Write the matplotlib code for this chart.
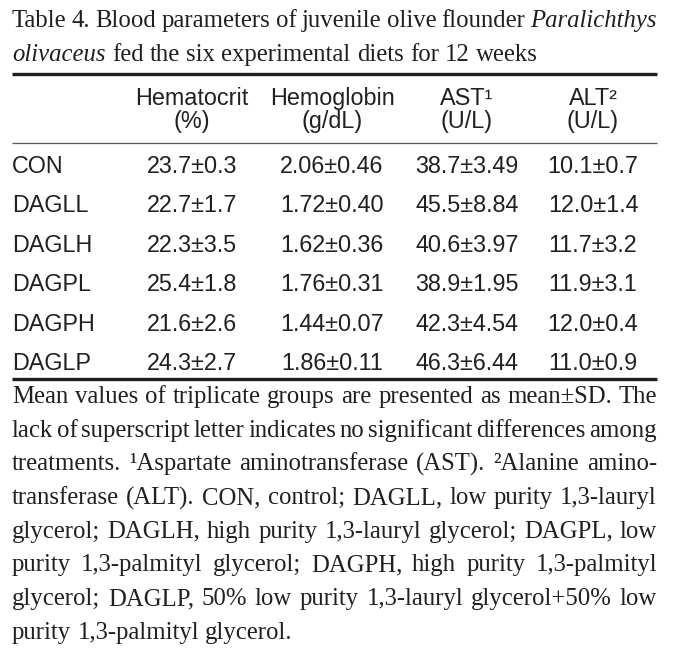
import numpy as np
from matplotlib import pyplot as plt

# table 4 values
treatments = ['CON', 'DAGLL', 'DAGLH', 'DAGPL', 'DAGPH', 'DAGLP']
col_names = ['Hematocrit', 'Hemoglobin', 'AST\u00b9', 'ALT\u00b2']
col_units = ['(%)', '(g/dL)', '(U/L)', '(U/L)']
hct_mean = [23.7, 22.7, 22.3, 25.4, 21.6, 24.3]
hct_sd = [0.3, 1.7, 3.5, 1.8, 2.6, 2.7]
hb_mean = [2.06, 1.72, 1.62, 1.76, 1.44, 1.86]
hb_sd = [0.46, 0.40, 0.36, 0.31, 0.07, 0.11]
ast_mean = [38.7, 45.5, 40.6, 38.9, 42.3, 46.3]
ast_sd = [3.49, 8.84, 3.97, 1.95, 4.54, 6.44]
alt_mean = [10.1, 12.0, 11.7, 11.9, 12.0, 11.0]
alt_sd = [0.7, 1.4, 3.2, 3.1, 0.4, 0.9]

title_lines = [
    [('Table', 'normal'), ('4.', 'normal'), ('Blood', 'normal'), ('parameters', 'normal'),
     ('of', 'normal'), ('juvenile', 'normal'), ('olive', 'normal'), ('flounder', 'normal'),
     ('Paralichthys', 'italic')],
    [('olivaceus', 'italic'), ('fed', 'normal'), ('the', 'normal'), ('six', 'normal'),
     ('experimental', 'normal'), ('diets', 'normal'), ('for', 'normal'), ('12', 'normal'),
     ('weeks', 'normal')],
]
note_lines = [
    'Mean values of triplicate groups are presented as mean\u00b1SD. The',
    'lack of superscript letter indicates no significant differences among',
    'treatments. \u00b9Aspartate aminotransferase (AST). \u00b2Alanine amino-',
    'transferase (ALT). CON, control; DAGLL, low purity 1,3-lauryl',
    'glycerol; DAGLH, high purity 1,3-lauryl glycerol; DAGPL, low',
    'purity 1,3-palmityl glycerol; DAGPH, high purity 1,3-palmityl',
    'glycerol; DAGLP, 50% low purity 1,3-lauryl glycerol+50% low',
    'purity 1,3-palmityl glycerol.',
]

ink = '#231f20'
serif = 'Liberation Serif'
sans = 'Liberation Sans'
serif_size = 17.8
sans_size = 16.8

W, H = 676, 649
fig = plt.figure(figsize=(W/100, H/100), dpi=100)
ax = fig.add_axes([0, 0, 1, 1])
ax.set_xlim(0, W)
ax.set_ylim(H, 0)
ax.axis('off')
renderer = fig.canvas.get_renderer()

left, right = 12, 657


def put_words(words, y, justify, size=serif_size):
    texts = []
    for w, style in words:
        t = ax.text(0, y, w, family=serif, style=style, fontsize=size,
                    color=ink, va='baseline', ha='left')
        texts.append(t)
    widths = [t.get_window_extent(renderer).width for t in texts]
    probe = ax.text(0, 0, 'a a', family=serif, fontsize=size)
    probe2 = ax.text(0, 0, 'aa', family=serif, fontsize=size)
    space = probe.get_window_extent(renderer).width - probe2.get_window_extent(renderer).width
    probe.remove()
    probe2.remove()
    if justify and len(texts) > 1:
        gap = (right - left - sum(widths)) / (len(texts) - 1)
    else:
        gap = space
    x = left
    for t, w in zip(texts, widths):
        t.set_x(x)
        x += w + gap


# title
put_words(title_lines[0], 27, True)
put_words(title_lines[1], 61, False)

# rules
ax.hlines(74, left, right, color='#231f20', lw=2.4)
ax.hlines(143, left, right, color='#555555', lw=0.9)
ax.hlines(379, left, right, color='#231f20', lw=2.4)

# header
col_x = [192, 332, 467, 593]
for cx, name, unit in zip(col_x, col_names, col_units):
    ax.text(cx, 105, name, family=sans, fontsize=sans_size, color=ink, ha='center', va='baseline')
    ax.text(cx, 128, unit, family=sans, fontsize=sans_size, color=ink, ha='center', va='baseline')

# rows
cols = [(hct_mean, hct_sd, '{:.1f}\u00b1{:.1f}'),
        (hb_mean, hb_sd, '{:.2f}\u00b1{:.2f}'),
        (ast_mean, ast_sd, '{:.1f}\u00b1{:.2f}'),
        (alt_mean, alt_sd, '{:.1f}\u00b1{:.1f}')]
row_y = 173 + 39.4*np.arange(len(treatments))
for i, name in enumerate(treatments):
    ax.text(left, row_y[i], name, family=sans, fontsize=sans_size, color=ink, ha='left', va='baseline')
    for cx, (m, s, fmt) in zip(col_x, cols):
        ax.text(cx, row_y[i], fmt.format(m[i], s[i]), family=sans, fontsize=sans_size,
                color=ink, ha='center', va='baseline')

# footnote, justified like the journal
note_y = 403 + 33.7*np.arange(len(note_lines))
for i, line in enumerate(note_lines):
    words = [(w, 'normal') for w in line.split(' ')]
    put_words(words, note_y[i], i < len(note_lines) - 1)

fig.savefig('out.png', dpi=100)
